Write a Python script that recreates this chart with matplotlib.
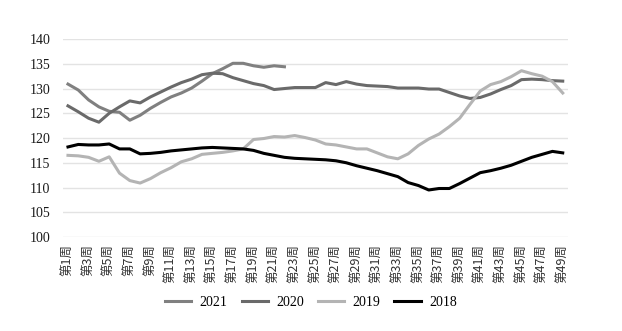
import matplotlib
matplotlib.use('Agg')
import matplotlib.pyplot as plt

plt.rcParams['font.family'] = ['Liberation Serif', 'Noto Sans CJK SC', 'DejaVu Sans']

# Data
weeks = list(range(1, 50))
tick_labels = ['第%d周' % w for w in weeks]

y2021 = [130.9, 129.7, 127.7, 126.3, 125.4, 125.2, 123.6, 124.6, 126.0, 127.2,
         128.3, 129.1, 130.1, 131.5, 133.0, 134.0, 135.1, 135.1, 134.6, 134.3,
         134.6, 134.4]
y2020 = [126.5, 125.3, 124.0, 123.2, 125.0, 126.3, 127.5, 127.1, 128.3, 129.3,
         130.3, 131.2, 131.9, 132.8, 133.1, 133.0, 132.2, 131.6, 131.0, 130.6,
         129.8, 130.0, 130.2, 130.2, 130.2, 131.2, 130.8, 131.4, 130.9, 130.6,
         130.5, 130.4, 130.1, 130.1, 130.1, 129.9, 129.9, 129.2, 128.5, 128.0,
         128.2, 128.9, 129.8, 130.6, 131.8, 131.9, 131.8, 131.6, 131.5]
y2019 = [116.5, 116.4, 116.1, 115.3, 116.2, 112.9, 111.4, 110.9, 111.8, 113.0,
         114.0, 115.2, 115.8, 116.7, 116.9, 117.1, 117.4, 117.8, 119.7, 119.9,
         120.3, 120.2, 120.5, 120.1, 119.6, 118.8, 118.6, 118.2, 117.8, 117.8,
         117.0, 116.2, 115.8, 116.8, 118.5, 119.8, 120.8, 122.3, 124.0, 126.8,
         129.5, 130.8, 131.4, 132.4, 133.6, 133.0, 132.5, 131.4, 129.1]
y2018 = [118.2, 118.7, 118.6, 118.6, 118.8, 117.8, 117.8, 116.8, 116.9, 117.1,
         117.4, 117.6, 117.8, 118.0, 118.1, 118.0, 117.9, 117.8, 117.5, 116.9,
         116.5, 116.1, 115.9, 115.8, 115.7, 115.6, 115.4, 115.0, 114.4, 113.9,
         113.4, 112.8, 112.2, 111.0, 110.4, 109.5, 109.8, 109.8, 110.8, 111.9,
         113.0, 113.4, 113.9, 114.5, 115.3, 116.1, 116.7, 117.3, 117.0]

# Plot
fig = plt.figure(figsize=(6.22, 3.31), dpi=100)
ax = fig.add_axes([0.101, 0.284, 0.812, 0.598])

lw = 2.2
ax.plot(weeks[:len(y2021)], y2021, color='#808080', lw=lw, label='2021')
ax.plot(weeks, y2020, color='#6a6a6a', lw=lw, label='2020')
ax.plot(weeks, y2019, color='#b4b4b4', lw=lw, label='2019')
ax.plot(weeks, y2018, color='#000000', lw=lw, label='2018')

ax.set_xlim(0.5, 49.5)
ax.set_ylim(100, 140)
ax.set_yticks(range(100, 141, 5))
ax.tick_params(axis='y', length=0, labelsize=10, pad=9, colors='#1a1a1a')
ax.set_xticks(weeks[::2])
ax.set_xticklabels(tick_labels[::2], rotation=90, fontsize=9,
                   family=['Noto Sans CJK SC', 'DejaVu Sans'], color='#333333')
ax.tick_params(axis='x', length=0, pad=5)
ax.grid(axis='y', color='#e3e3e3', lw=1)
ax.set_axisbelow(True)
for s in ax.spines.values():
    s.set_visible(False)

fig.legend(loc='lower center', ncol=4, bbox_to_anchor=(0.5, 0.03), frameon=False,
           fontsize=10, handlelength=1.9, columnspacing=1.0, handletextpad=0.6)

plt.savefig('out.png', dpi=100)
